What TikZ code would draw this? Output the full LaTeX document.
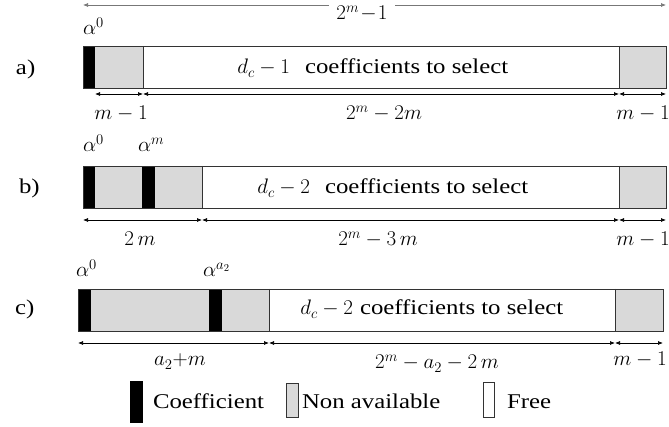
\RequirePackage{fix-cm}
\documentclass[tikz,border=0pt]{standalone}
\usepackage{fontspec}
\setmainfont{Liberation Serif}[FakeStretch=1.18]
\usetikzlibrary{arrows.meta}
\definecolor{nagray}{HTML}{D9D9D9}
\definecolor{edgec}{HTML}{333333}
\definecolor{topc}{HTML}{777777}
\begin{document}
\begin{tikzpicture}[x=1pt,y=-1pt,
  every node/.style={inner sep=0pt, outer sep=0pt, font=\fontsize{21}{25}\selectfont},
  dimline/.style={{Latex[length=5pt,width=4pt]}-{Latex[length=5pt,width=4pt]}, line width=0.7pt},
  coef/.style={fill=black},
  na/.style={fill=nagray},
  free/.style={fill=white},
  cellline/.style={draw=edgec, line width=0.7pt}]
\useasboundingbox (0,0) rectangle (669,427);

% ---------- top arrow ----------
\coordinate (t0) at (83,5);
\coordinate (t1) at (666,5);
\draw[dimline, draw=topc] (t0) -- (t1);
\node[fill=white, inner xsep=7pt, inner ysep=2pt, anchor=base] (tl) at (362,20) {$2^m\!-\!1$};

% ---------- row a ----------
\fill[coef] (83,46) rectangle (95,88);
\fill[na] (95,46) rectangle (143,88);
\fill[free] (143,46) rectangle (619,88);
\fill[na] (619,46) rectangle (666,88);
\draw[cellline] (83,46) rectangle (666,88);
\draw[cellline] (143,46) -- (143,88) (619,46) -- (619,88);
\node[anchor=base west] (la) at (16,75) {a)};
\node[anchor=base west] (aa0) at (83,35) {$\alpha^0$};
\node[anchor=base east] (ma) at (290,74) {$d_c-1$};
\node[anchor=base west] (ta) at (305,74) {coefficients to select};
\coordinate (a0) at (95,94);
\coordinate (a1) at (143,94);
\coordinate (a2) at (619,94);
\coordinate (a3) at (666,94);
\draw[dimline] (a0) -- (a1);
\draw[dimline] (a1) -- (a2);
\draw[dimline] (a2) -- (a3);
\node[anchor=base] (da1) at (121,120) {$m-1$};
\node[anchor=base] (da2) at (384,120) {$2^m-2m$};
\node[anchor=base] (da3) at (643,120) {$m-1$};

% ---------- row b ----------
\fill[coef] (83,166) rectangle (95,208);
\fill[na] (95,166) rectangle (142,208);
\fill[coef] (142,166) rectangle (155,208);
\fill[na] (155,166) rectangle (202,208);
\fill[free] (202,166) rectangle (619,208);
\fill[na] (619,166) rectangle (666,208);
\draw[cellline] (83,166) rectangle (666,208);
\draw[cellline] (202,166) -- (202,208) (619,166) -- (619,208);
\node[anchor=base west] (lb) at (19,194) {b)};
\node[anchor=base west] (ab0) at (83,152) {$\alpha^0$};
\node[anchor=base west] (abm) at (138,152) {$\alpha^m$};
\node[anchor=base east] (mb) at (310,194) {$d_c-2$};
\node[anchor=base west] (tb) at (325,194) {coefficients to select};
\coordinate (b0) at (83,220);
\coordinate (b1) at (202,220);
\coordinate (b2) at (619,220);
\coordinate (b3) at (666,220);
\draw[dimline] (b0) -- (b1);
\draw[dimline] (b1) -- (b2);
\draw[dimline] (b2) -- (b3);
\node[anchor=base] (db1) at (140,246) {$2\,m$};
\node[anchor=base] (db2) at (378,246) {$2^m-3\,m$};
\node[anchor=base] (db3) at (643,246) {$m-1$};

% ---------- row c ----------
\fill[coef] (78,289) rectangle (91,331);
\fill[na] (91,289) rectangle (209,331);
\fill[coef] (209,289) rectangle (222,331);
\fill[na] (222,289) rectangle (269,331);
\fill[free] (269,289) rectangle (615,331);
\fill[na] (615,289) rectangle (663,331);
\draw[cellline] (78,289) rectangle (663,331);
\draw[cellline] (269,289) -- (269,331) (615,289) -- (615,331);
\node[anchor=base west] (lc) at (15,315) {c)};
\node[anchor=base west] (ac0) at (76,277) {$\alpha^0$};
\node[anchor=base west] (aca) at (203,277) {$\alpha^{a_2}$};
\node[anchor=base east] (mc) at (353,315) {$d_c-2$};
\node[anchor=base west] (tc) at (360,315) {coefficients to select};
\coordinate (c0) at (78,343);
\coordinate (c1) at (269,343);
\coordinate (c2) at (615,343);
\coordinate (c3) at (663,343);
\draw[dimline] (c0) -- (c1);
\draw[dimline] (c1) -- (c2);
\draw[dimline] (c2) -- (c3);
\node[anchor=base] (dc1) at (180,366) {$a_2{+}m$};
\node[anchor=base] (dc2) at (437,369) {$2^m-a_2-2\,m$};
\node[anchor=base] (dc3) at (640,366) {$m-1$};

% ---------- legend ----------
\fill[coef] (130,381) rectangle (143,423);
\node[anchor=base west] (lg1) at (153,408) {Coefficient};
\filldraw[na, draw=edgec, line width=0.7pt] (286,383) rectangle (298,417);
\node[anchor=base west] (lg2) at (302,408) {Non available};
\filldraw[free, draw=edgec, line width=0.7pt] (483,382) rectangle (494,417);
\node[anchor=base west] (lg3) at (507,408) {Free};
\end{tikzpicture}
\end{document}
